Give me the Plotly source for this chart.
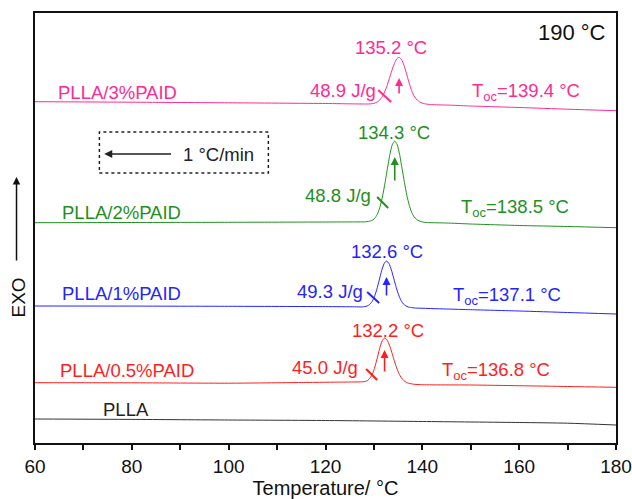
import plotly.graph_objects as go

# DSC cooling curves (crystallization from 190 °C melt), heat flow in arbitrary units, curves offset
t_pure = [60, 80, 100, 120, 140, 160, 170, 180]
hf_pure = [24.0, 23.6, 23.0, 22.5, 21.5, 20.5, 19.8, 18.0]

t_05 = [60, 80, 100, 115, 125, 127.7, 128.2, 128.7, 129.2, 129.7, 130.2, 130.7, 131.2, 131.7,
        132.2, 132.7, 133.2, 133.7, 134.2, 134.7, 135.2, 135.7, 136.2, 136.7, 137.2, 138.2,
        139.7, 150, 160, 170, 180]
hf_05 = [60.3, 60.2, 59.8, 60.5, 61.0, 61.2, 61.6, 62.6, 64.9, 69.2, 76.0, 85.1, 94.7, 102.2,
         105.0, 103.1, 97.9, 90.5, 82.5, 75.1, 69.2, 65.0, 62.3, 60.6, 59.7, 58.8,
         58.3, 58.0, 57.3, 56.5, 55.7]

t_1 = [60, 80, 100, 120, 126, 127.6, 128.6, 129.1, 129.6, 130.1, 130.6, 131.1, 131.6, 132.1,
       132.6, 133.1, 133.6, 134.1, 134.6, 135.1, 135.6, 136.1, 136.6, 137.1, 137.6, 138.6,
       145, 150, 160, 170, 180]
hf_1 = [137.0, 136.9, 136.7, 136.4, 136.2, 136.1, 137.0, 138.4, 141.3, 146.3, 153.7, 162.9, 172.4, 179.3,
        182.0, 179.5, 173.2, 164.5, 155.7, 148.1, 142.6, 139.0, 137.1, 136.0, 135.5, 135.0,
        134.0, 133.3, 132.0, 130.5, 129.0]

t_2 = [60, 80, 100, 120, 126, 128.3, 129.3, 129.8, 130.3, 130.8, 131.3, 131.8, 132.3, 132.8,
       133.3, 133.8, 134.3, 134.8, 135.3, 135.8, 136.3, 136.8, 137.3, 137.8, 138.3, 138.8,
       139.3, 140.3, 141.3, 145, 150, 160, 170, 180]
hf_2 = [220.3, 220.5, 220.7, 221.0, 221.1, 221.2, 222.0, 223.1, 225.5, 229.8, 236.9, 247.1, 260.2, 274.9,
        288.6, 298.4, 302.0, 298.4, 288.6, 274.9, 260.7, 247.8, 237.7, 230.6, 226.2, 223.7,
        222.2, 220.8, 220.4, 220.0, 219.0, 217.5, 216.5, 215.3]

t_3 = [60, 80, 100, 120, 126, 128, 129.2, 130.2, 130.7, 131.2, 131.7, 132.2, 132.7, 133.2,
       133.7, 134.2, 134.7, 135.2, 135.7, 136.2, 136.7, 137.2, 137.7, 138.2, 138.7, 139.2,
       139.7, 140.2, 141.2, 142.2, 146, 150, 160, 170, 180]
hf_3 = [341.3, 340.8, 340.2, 339.5, 339.1, 339.0, 339.1, 339.9, 341.1, 343.0, 346.2, 351.0, 357.2, 364.6,
        372.3, 379.2, 384.0, 385.7, 383.5, 377.8, 369.9, 361.3, 353.7, 347.8, 344.2, 341.9,
        340.4, 339.5, 338.7, 338.3, 337.8, 337.0, 335.5, 333.8, 332.3]

# sample names, peak temperatures (Tc), onset temperatures (Toc), enthalpies
names = ["PLLA", "PLLA/0.5%PAID", "PLLA/1%PAID", "PLLA/2%PAID", "PLLA/3%PAID"]
tc_peak = [None, 132.2, 132.6, 134.3, 135.2]
t_onset = [None, 136.8, 137.1, 138.5, 139.4]
dh_c = [None, 45.0, 49.3, 48.8, 48.9]

colors = ["#333333", "#ff1e1e", "#2424ff", "#1f8f1f", "#ff2a93"]
temps = [t_pure, t_05, t_1, t_2, t_3]
flows = [hf_pure, hf_05, hf_1, hf_2, hf_3]

FONT = "Liberation Sans, Arial, sans-serif"
LBL = 18.5

fig = go.Figure()
for t, hf, c, n in zip(temps, flows, colors, names):
    fig.add_trace(go.Scatter(x=t, y=hf, mode="lines", name=n,
                             line=dict(color=c, width=1, shape="spline", smoothing=0.6),
                             showlegend=False, hoverinfo="skip"))

annotations = []
shapes = []

# label positions: sample name (x, y), peak label y, enthalpy label (x, y), onset label (x, y)
name_pos = [(78.8, 34), (79.0, 73), (77.85, 150), (77.85, 230.3), (77.0, 351)]
peak_lbl = [None, (132.95, 113), (132.74, 192), (134.18, 311), (133.57, 396)]
dh_lbl = [None, (119.95, 76), (120.98, 152), (122.63, 248), (123.66, 353)]
onset_lbl = [None, (155.23, 72), (157.5, 147), (159.15, 235), (161.42, 351)]
slash = [None, (128.4, 74, 130.67, 63), (128.61, 151, 131.09, 140),
         (130.67, 246, 132.94, 235), (130.88, 353, 133.57, 341)]
arrow_y = [None, (70, 93), (146, 166), (261, 286), (348, 365)]

for i, (n, c) in enumerate(zip(names, colors)):
    tc = "#222222" if i == 0 else c
    annotations.append(dict(x=name_pos[i][0], y=name_pos[i][1], text=n, showarrow=False,
                            font=dict(family=FONT, size=LBL, color=tc)))
    if tc_peak[i] is None:
        continue
    annotations.append(dict(x=peak_lbl[i][0], y=peak_lbl[i][1], text=f"{tc_peak[i]:.1f} \u00b0C",
                            showarrow=False, font=dict(family=FONT, size=LBL, color=c)))
    annotations.append(dict(x=dh_lbl[i][0], y=dh_lbl[i][1], text=f"{dh_c[i]:.1f} J/g",
                            showarrow=False, font=dict(family=FONT, size=LBL, color=c)))
    annotations.append(dict(x=onset_lbl[i][0], y=onset_lbl[i][1],
                            text=f"T<sub>oc</sub>={t_onset[i]:.1f} \u00b0C",
                            showarrow=False, font=dict(family=FONT, size=LBL, color=c)))
    # arrow marking the peak temperature
    annotations.append(dict(x=tc_peak[i], y=arrow_y[i][1], ax=tc_peak[i], ay=arrow_y[i][0],
                            xref="x", yref="y", axref="x", ayref="y", text="",
                            showarrow=True, arrowhead=2, arrowsize=1, arrowwidth=1.6,
                            arrowcolor=c, standoff=0))
    x0, y0, x1, y1 = slash[i]
    shapes.append(dict(type="line", x0=x0, y0=y0, x1=x1, y1=y1, xref="x", yref="y",
                       line=dict(color=c, width=2)))

# cooling-rate box
shapes.append(dict(type="rect", x0=73.3, x1=108.2, y0=270, y1=311, xref="x", yref="y",
                   line=dict(color="#222222", width=1.5, dash="dot")))
annotations.append(dict(x=74.3, y=289, ax=88.4, ay=289, xref="x", yref="y", axref="x", ayref="y",
                        text="", showarrow=True, arrowhead=2, arrowsize=1, arrowwidth=1.6,
                        arrowcolor="#222222", standoff=0))
annotations.append(dict(x=97.9, y=289, text="1 \u00b0C/min", showarrow=False,
                        font=dict(family=FONT, size=LBL, color="#222222")))

# melt temperature
annotations.append(dict(x=0.9855, y=0.9535, xref="paper", yref="paper", xanchor="right",
                        yanchor="middle", text="190 \u00b0C", showarrow=False,
                        font=dict(family=FONT, size=22, color="#111111")))

# EXO direction
annotations.append(dict(x=-0.0284, y=0.3395, xref="paper", yref="paper", text="EXO",
                        xanchor="center", yanchor="middle", textangle=-90, showarrow=False,
                        font=dict(family=FONT, size=19, color="#111111")))
annotations.append(dict(x=-0.0318, y=0.6186, xref="paper", yref="paper", axref="pixel",
                        ayref="pixel", ax=0, ay=85, text="", showarrow=True, arrowhead=2,
                        arrowsize=1, arrowwidth=1.5, arrowcolor="#111111", standoff=0))

fig.update_layout(
    width=632, height=499,
    margin=dict(l=35, r=16, t=13, b=56, autoexpand=False),
    paper_bgcolor="white", plot_bgcolor="white",
    annotations=annotations, shapes=shapes,
    font=dict(family=FONT, color="#111111"),
)
fig.update_xaxes(range=[60, 180], dtick=20, tick0=60, ticks="outside", ticklen=5, tickwidth=2,
                 tickcolor="#111111", showline=True, linewidth=2, linecolor="#111111",
                 mirror=True, showgrid=False, zeroline=False, automargin=False,
                 minor=dict(dtick=10, ticks="outside", ticklen=5, tickwidth=2, tickcolor="#111111"),
                 tickfont=dict(family=FONT, size=19, color="#111111"),
                 title=dict(text="Temperature/ \u00b0C", standoff=7,
                            font=dict(family=FONT, size=20, color="#111111")))
fig.update_yaxes(range=[0, 430], showticklabels=False, ticks="", showline=True, linewidth=2,
                 linecolor="#111111", mirror=True, showgrid=False, zeroline=False,
                 automargin=False)

fig.write_html("out.html")
